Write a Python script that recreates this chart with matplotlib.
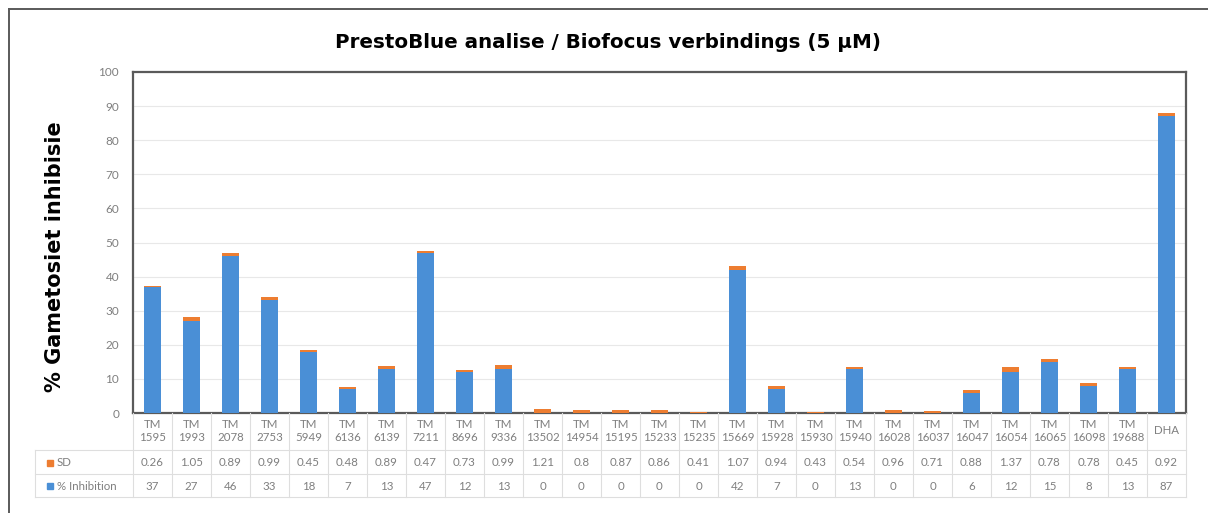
import matplotlib
matplotlib.use("Agg")
import matplotlib.pyplot as plt
from matplotlib.transforms import blended_transform_factory
from matplotlib.lines import Line2D
from matplotlib.patches import Rectangle

compounds = ["TM\n1595", "TM\n1993", "TM\n2078", "TM\n2753", "TM\n5949", "TM\n6136", "TM\n6139",
             "TM\n7211", "TM\n8696", "TM\n9336", "TM\n13502", "TM\n14954", "TM\n15195", "TM\n15233",
             "TM\n15235", "TM\n15669", "TM\n15928", "TM\n15930", "TM\n15940", "TM\n16028", "TM\n16037",
             "TM\n16047", "TM\n16054", "TM\n16065", "TM\n16098", "TM\n19688", "DHA"]
inhibition = [37, 27, 46, 33, 18, 7, 13, 47, 12, 13, 0, 0, 0, 0, 0, 42, 7, 0, 13, 0, 0, 6, 12, 15, 8, 13, 87]
sd = [0.26, 1.05, 0.89, 0.99, 0.45, 0.48, 0.89, 0.47, 0.73, 0.99, 1.21, 0.8, 0.87, 0.86, 0.41, 1.07,
      0.94, 0.43, 0.54, 0.96, 0.71, 0.88, 1.37, 0.78, 0.78, 0.45, 0.92]
yticks = [0, 10, 20, 30, 40, 50, 60, 70, 80, 90, 100]

BLUE = "#4a8fd6"
ORANGE = "#ed7d31"
GRID = "#e8e8e8"
TXT = "#7f7f7f"
W, H = 1208, 513

fig = plt.figure(figsize=(W / 100, H / 100), dpi=100)
fig.patch.set_facecolor("white")

pl, pr, pt, pb = 133, 1186, 72, 413
ax = fig.add_axes([pl / W, 1 - pb / H, (pr - pl) / W, (pb - pt) / H])

n = len(compounds)
xs = list(range(n))
ax.bar(xs, inhibition, width=0.42, color=BLUE, zorder=3)
ax.bar(xs, sd, width=0.42, bottom=inhibition, color=ORANGE, zorder=3)

ax.set_xlim(-0.5, n - 0.5)
ax.set_ylim(0, 100)
ax.set_yticks(yticks)
ax.set_yticklabels([str(v) for v in yticks], fontsize=8.5, color=TXT, family="Lato")
ax.set_xticks([])
ax.tick_params(axis="y", length=0, pad=10)
ax.yaxis.grid(True, color=GRID, linewidth=0.8, zorder=0)
ax.set_axisbelow(True)
for s in ax.spines.values():
    s.set_color("#5a5a5a")
    s.set_linewidth(1.6)

fig.text(55 / W, 1 - 257 / H, "% Gametosiet inhibisie", rotation=90, ha="center", va="center",
         fontsize=15, fontweight="bold", color="black", family="DejaVu Sans")
fig.text(0.503, 1 - 43 / H, "PrestoBlue analise / Biofocus verbindings (5 µM)", ha="center", va="center",
         fontsize=14.3, fontweight="bold", color="black", family="DejaVu Sans")

# Data table below the axes
tr = blended_transform_factory(ax.transData, ax.transAxes)
def ay(py):
    return (pb - py) / (pb - pt)

y_head_top, y_sd_top, y_inh_top, y_bot = pb, 450, 474, 497
for i in range(n):
    ax.text(i, ay(431), compounds[i], transform=tr, ha="center", va="center", fontsize=8.3,
            color=TXT, family="Lato", linespacing=1.3, clip_on=False)
    ax.text(i, ay(462.5), f"{sd[i]:g}", transform=tr, ha="center", va="center", fontsize=8.3,
            color=TXT, family="Lato", clip_on=False)
    ax.text(i, ay(486), f"{inhibition[i]:g}", transform=tr, ha="center", va="center", fontsize=8.3,
            color=TXT, family="Lato", clip_on=False)

def fx(px):
    return px / W
def fy(py):
    return 1 - py / H

lc = "#dedede"
tab_left = 35
for py in (y_sd_top, y_inh_top, y_bot):
    fig.add_artist(Line2D([fx(tab_left), fx(pr)], [fy(py), fy(py)], color=lc, lw=0.8))
for i in range(n + 1):
    xp = pl + (pr - pl) * i / n
    fig.add_artist(Line2D([fx(xp), fx(xp)], [fy(y_head_top), fy(y_bot)], color=lc, lw=0.8))
fig.add_artist(Line2D([fx(tab_left), fx(tab_left)], [fy(y_sd_top), fy(y_bot)], color=lc, lw=0.8))

# row legend keys
for py, col, lab in ((462.5, ORANGE, "SD"), (486, BLUE, "% Inhibition")):
    fig.add_artist(Rectangle((fx(47), fy(py + 3)), 6 / W, 6 / H, color=col))
    fig.text(fx(57), fy(py), lab, ha="left", va="center", fontsize=8.3, color=TXT, family="Lato")

# outer frame (left and top)
fig.add_artist(Line2D([fx(9), fx(9)], [fy(9), 0], color="#5a5a5a", lw=1.4))
fig.add_artist(Line2D([fx(9), 1], [fy(9), fy(9)], color="#5a5a5a", lw=1.4))

fig.savefig("out.png", dpi=100)
